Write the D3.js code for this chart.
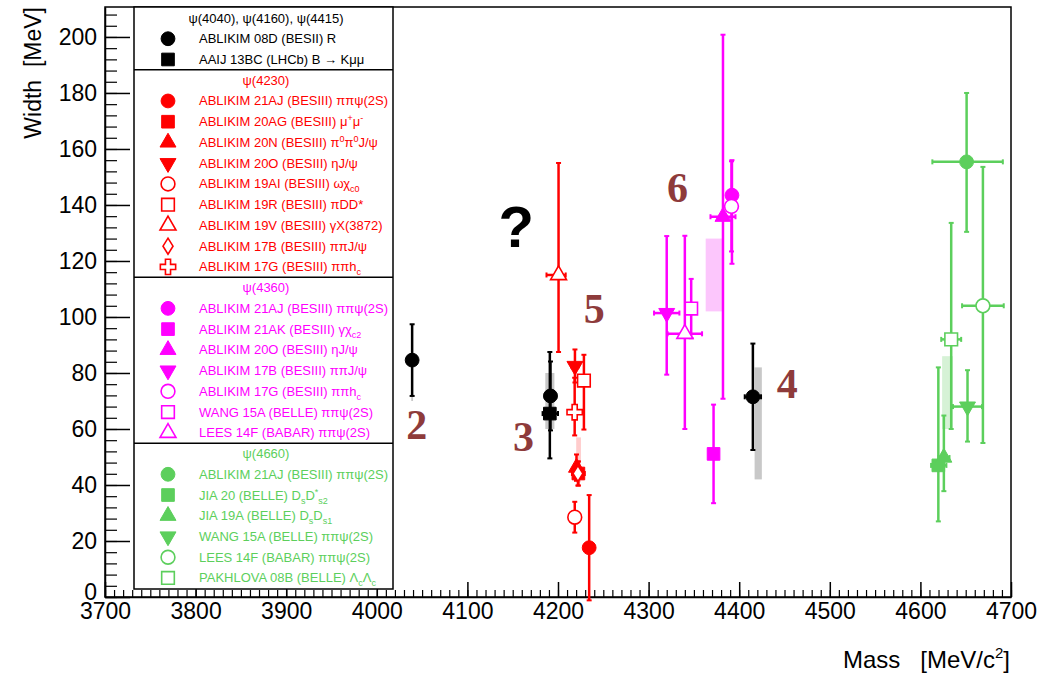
<!DOCTYPE html>
<html>
<head>
<meta charset="utf-8">
<script src="https://cdn.jsdelivr.net/npm/d3@7"></script>
<style>
body { margin: 0; background: #fff; }
svg { display: block; font-family: "Liberation Sans", Arial, Helvetica, sans-serif; }
</style>
</head>
<body>
<svg id="chart" width="1039" height="677"></svg>
<script>
// ---- data ----
var massTicks = d3.range(3700, 4701, 100);
var widthTicks = d3.range(0, 201, 20);

var states = ["ψ(4040), ψ(4160), ψ(4415)", "ψ(4230)", "ψ(4360)", "ψ(4660)"];

// legend entries per state (sym = marker shape, open = hollow marker)
var entries4040 = [
	{label: "ABLIKIM 08D (BESII) R", sym: "circle"},
	{label: "AAIJ 13BC (LHCb) B → Kμμ", sym: "square"}
];
var entries4230 = [
	{label: "ABLIKIM 21AJ (BESIII) ππψ(2S)", sym: "circle"},
	{label: "ABLIKIM 20AG (BESIII) μ^{+}μ^{-}", sym: "square"},
	{label: "ABLIKIM 20N (BESIII) π^{0}π^{0}J/ψ", sym: "triangle"},
	{label: "ABLIKIM 20O (BESIII) ηJ/ψ", sym: "triangleDown"},
	{label: "ABLIKIM 19AI (BESIII) ωχ_{c0}", sym: "circle", open: true},
	{label: "ABLIKIM 19R (BESIII) πDD*", sym: "square", open: true},
	{label: "ABLIKIM 19V (BESIII) γX(3872)", sym: "triangle", open: true},
	{label: "ABLIKIM 17B (BESIII) ππJ/ψ", sym: "diamond", open: true},
	{label: "ABLIKIM 17G (BESIII) ππh_{c}", sym: "cross", open: true}
];
var entries4360 = [
	{label: "ABLIKIM 21AJ (BESIII) ππψ(2S)", sym: "circle"},
	{label: "ABLIKIM 21AK (BESIII) γχ_{c2}", sym: "square"},
	{label: "ABLIKIM 20O (BESIII) ηJ/ψ", sym: "triangle"},
	{label: "ABLIKIM 17B (BESIII) ππJ/ψ", sym: "triangleDown"},
	{label: "ABLIKIM 17G (BESIII) ππh_{c}", sym: "circle", open: true},
	{label: "WANG 15A (BELLE) ππψ(2S)", sym: "square", open: true},
	{label: "LEES 14F (BABAR) ππψ(2S)", sym: "triangle", open: true}
];
var entries4660 = [
	{label: "ABLIKIM 21AJ (BESIII) ππψ(2S)", sym: "circle"},
	{label: "JIA 20 (BELLE) D_{s}D^{*}_{s2}", sym: "square"},
	{label: "JIA 19A (BELLE) D_{s}D_{s1}", sym: "triangle"},
	{label: "WANG 15A (BELLE) ππψ(2S)", sym: "triangleDown"},
	{label: "LEES 14F (BABAR) ππψ(2S)", sym: "circle", open: true},
	{label: "PAKHLOVA 08B (BELLE) Λ_{c}Λ_{c}", sym: "square", open: true}
];

// measurements: e = legend entry index, m = mass, dm = [-,+], w = width, dw = [-,+]
var pts4040 = [
	{e: 0, m: 4039,   dm: [0, 0],   w: 84.6, dw: [12.8, 12.8]},
	{e: 0, m: 4191.7, dm: [6.5, 6.5], w: 71.8, dw: [12.3, 12.3]},
	{e: 1, m: 4191,   dm: [8, 9],   w: 65.5, dw: [16, 22]},
	{e: 0, m: 4415.1, dm: [9, 9],   w: 71.5, dw: [19, 19]}
];
var pts4230 = [
	{e: 0, m: 4234.4, dm: [3.2, 3.2], w: 17.6, dw: [18.8, 18.8]},
	{e: 1, m: 4222.5, dm: [7.1, 7.1], w: 44.1, dw: [4.3, 4.3]},
	{e: 2, m: 4220.4, dm: [2.4, 2.4], w: 46.2, dw: [4.7, 4.7]},
	{e: 3, m: 4218.7, dm: [4.0, 4.0], w: 82.5, dw: [5.9, 5.9]},
	{e: 4, m: 4218.5, dm: [1.6, 1.6], w: 28.5, dw: [5.5, 5.5]},
	{e: 5, m: 4228.6, dm: [4.1, 4.1], w: 77.3, dw: [17.5, 9.2]},
	{e: 6, m: 4200.6, dm: [13.3, 7.9], w: 115, dw: [27.5, 40]},
	{e: 7, m: 4222.0, dm: [3.1, 3.1], w: 44.1, dw: [4.3, 4.3]},
	{e: 8, m: 4218.4, dm: [4.5, 5.5], w: 66.0, dw: [8.3, 12.3]}
];
var pts4360 = [
	{e: 2, m: 4382.1, dm: [13.8, 13.8], w: 135.8, dw: [65, 65]},
	{e: 0, m: 4392,   dm: [4, 4],     w: 143.5, dw: [24.5, 12.5]},
	{e: 1, m: 4371.7, dm: [2, 2],     w: 51.1, dw: [17.6, 17.6]},
	{e: 3, m: 4320.0, dm: [14, 14],   w: 101.4, dw: [22, 27.5]},
	{e: 4, m: 4391.5, dm: [6.3, 6.3], w: 139.5, dw: [16.1, 16.1]},
	{e: 5, m: 4347,   dm: [6, 6],     w: 103, dw: [10.6, 10.6]},
	{e: 6, m: 4340,   dm: [19, 19],   w: 94, dw: [34, 35]}
];
var pts4660 = [
	{e: 0, m: 4651.0, dm: [37.8, 40], w: 155.4, dw: [25, 24.6]},
	{e: 1, m: 4619.8, dm: [8.0, 8.9], w: 47.0, dw: [20, 35]},
	{e: 2, m: 4625.9, dm: [6.0, 6.2], w: 49.8, dw: [12, 15]},
	{e: 3, m: 4652,   dm: [16, 16],   w: 68, dw: [12.5, 13]},
	{e: 4, m: 4669,   dm: [23, 23],   w: 104, dw: [49, 49.6]},
	{e: 5, m: 4634,   dm: [11, 11],   w: 92, dw: [32, 41.6]}
];

// PDG averages drawn as shaded boxes: [state index, mass, dm, width, dw-, dw+]
var pdgBoxes = [
	[0, 4039, 1, 80, 10, 10],
	[0, 4191, 5, 70, 10, 10],
	[0, 4421, 4, 62, 20, 20],
	[1, 4222.7, 2.6, 49, 8, 8],
	[2, 4372, 9, 115, 13, 13],
	[3, 4630, 6, 72, 12, 14]
];

// labels written on the plot: [text, mass, width]
var notes = [["2", 4044, 56.5], ["3", 4162, 52], ["4", 4453, 71], ["5", 4240, 98], ["6", 4332, 141]];

// ---- setup ----
var colors = ["#000000", "#ff0000", "#ff00ff", "#5ccf5c"];
var boxColors = ["#c8c8c8", "#ffcccc", "#fcc6fc", "#d6f2d6"];

var svg = d3.select("#chart");
var x = d3.scaleLinear().domain([3700, 4700]).range([105, 1011]);
var y = d3.scaleLinear().domain([0, 210.7]).range([597, 7]);

// frame
svg.append("rect").attr("x", 105).attr("y", 7).attr("width", 906).attr("height", 590)
	.attr("fill", "none").attr("stroke", "#000").attr("stroke-width", 1.5);

// minor ticks
svg.append("g").attr("transform", "translate(0,597)")
	.call(d3.axisBottom(x).tickValues(d3.range(3700, 4701, 10)).tickSize(-7).tickSizeOuter(0).tickFormat(""))
	.call(function(g){ g.select(".domain").remove(); g.selectAll("line").attr("stroke-width", 1.2); });
svg.append("g").attr("transform", "translate(105,0)")
	.call(d3.axisLeft(y).tickValues(d3.range(0, 210, 4)).tickSize(-12).tickSizeOuter(0).tickFormat(""))
	.call(function(g){ g.select(".domain").remove(); g.selectAll("line").attr("stroke-width", 1.2); });

// major ticks + labels
svg.append("g").attr("transform", "translate(0,597)")
	.call(d3.axisBottom(x).tickValues(massTicks).tickSize(-15).tickSizeOuter(0).tickPadding(6).tickFormat(d3.format("d")))
	.call(function(g){
		g.select(".domain").attr("stroke-width", 1.5);
		g.selectAll("line").attr("stroke-width", 1.5);
		g.selectAll("text").attr("font-size", 23).attr("font-family", "Liberation Sans, Arial, sans-serif").attr("fill", "#000");
	});
svg.append("g").attr("transform", "translate(105,0)")
	.call(d3.axisLeft(y).tickValues(widthTicks).tickSize(-25).tickSizeOuter(0).tickPadding(8).tickFormat(d3.format("d")))
	.call(function(g){
		g.select(".domain").attr("stroke-width", 1.5);
		g.selectAll("line").attr("stroke-width", 1.5);
		g.selectAll("text").attr("font-size", 23).attr("font-family", "Liberation Sans, Arial, sans-serif").attr("fill", "#000");
		g.selectAll(".tick").filter(function(d){ return d == 0; }).select("text").attr("dy", "0.1em");
	});

// axis titles
svg.append("text").attr("transform", "translate(41,7) rotate(-90)").attr("text-anchor", "end")
	.attr("font-size", 23).attr("xml:space", "preserve").text("Width  [MeV]");
var mt = svg.append("text").attr("x", 1010).attr("y", 668).attr("text-anchor", "end").attr("font-size", 24)
	.attr("xml:space", "preserve");
mt.append("tspan").text("Mass   [MeV/c");
mt.append("tspan").attr("font-size", 15).attr("dy", -10).text("2");
mt.append("tspan").attr("dy", 10).text("]");

// marker paths
function markerPath(sym){
	if (sym == "circle") return d3.symbol(d3.symbolCircle, 150)();
	if (sym == "square") return d3.symbol(d3.symbolSquare, 160)();
	if (sym == "triangle" || sym == "triangleDown") return d3.symbol(d3.symbolTriangle, 110)();
	if (sym == "cross") return d3.symbol(d3.symbolCross, 130)();
	if (sym == "diamond") return "M0,-8L5,0L0,8L-5,0Z";
}
function drawMarker(g, sym, open, color, cx, cy){
	g.append("path").attr("d", markerPath(sym))
		.attr("transform", "translate(" + cx + "," + cy + ")" + (sym == "triangleDown" ? " rotate(180)" : ""))
		.attr("fill", open ? "#fff" : color)
		.attr("stroke", color).attr("stroke-width", open ? 1.6 : 1);
}

// PDG boxes
svg.append("g").selectAll("rect").data(pdgBoxes).enter().append("rect")
	.attr("x", function(d){ return x(d[1] - d[2]); })
	.attr("width", function(d){ return x(d[1] + d[2]) - x(d[1] - d[2]); })
	.attr("y", function(d){ return y(d[3] + d[5]); })
	.attr("height", function(d){ return y(d[3] - d[4]) - y(d[3] + d[5]); })
	.attr("fill", function(d){ return boxColors[d[0]]; });

// measurements
var allPts = [pts4040, pts4230, pts4360, pts4660];
var allEntries = [entries4040, entries4230, entries4360, entries4660];
var cap = 2.5;
allPts.forEach(function(pts, gi){
	var col = colors[gi];
	var g = svg.append("g").attr("stroke", col);
	pts.forEach(function(p){
		var ent = allEntries[gi][p.e];
		var cx = x(p.m), cy = y(p.w);
		var y0 = y(p.w - p.dw[0]), y1 = y(p.w + p.dw[1]);
		g.append("line").attr("x1", cx).attr("x2", cx).attr("y1", y0).attr("y2", y1).attr("stroke-width", 2.5);
		g.append("line").attr("x1", cx - cap).attr("x2", cx + cap).attr("y1", y0).attr("y2", y0).attr("stroke-width", 2);
		g.append("line").attr("x1", cx - cap).attr("x2", cx + cap).attr("y1", y1).attr("y2", y1).attr("stroke-width", 2);
		var x0 = x(p.m - p.dm[0]), x1 = x(p.m + p.dm[1]);
		if (x1 - x0 > 1) {
			g.append("line").attr("x1", x0).attr("x2", x1).attr("y1", cy).attr("y2", cy).attr("stroke-width", 2.5);
			g.append("line").attr("x1", x0).attr("x2", x0).attr("y1", cy - cap).attr("y2", cy + cap).attr("stroke-width", 2);
			g.append("line").attr("x1", x1).attr("x2", x1).attr("y1", cy - cap).attr("y2", cy + cap).attr("stroke-width", 2);
		}
		drawMarker(g, ent.sym, ent.open, col, cx, cy);
	});
});

// annotations
svg.append("g").selectAll("text").data(notes).enter().append("text")
	.attr("x", function(d){ return x(d[1]); }).attr("y", function(d){ return y(d[2]); })
	.attr("text-anchor", "middle").attr("font-family", "Liberation Serif, Times New Roman, serif")
	.attr("font-weight", "bold").attr("font-size", 42).attr("fill", "#8e3b3b")
	.text(function(d){ return d[0]; });
svg.append("text").attr("x", x(4154)).attr("y", y(125)).attr("text-anchor", "middle")
	.attr("font-weight", "bold").attr("font-size", 58).attr("fill", "#000").text("?");

// ---- legend ----
function richText(t, str){
	var re = /([\^_])\{([^}]*)\}|([^\^_]+)/g, m, shift = 0;
	while ((m = re.exec(str))) {
		if (m[3]) {
			t.append("tspan").attr("dy", -shift).text(m[3]);
			shift = 0;
		} else {
			var s = m[1] == "^" ? -5 : 4;
			t.append("tspan").attr("dy", s - shift).attr("font-size", 9).text(m[2]);
			shift = s;
		}
	}
}

var lg = svg.append("g");
var lx = 134, lw = 259, rowH = 20.74, row0 = 18;
lg.append("rect").attr("x", lx).attr("y", 7).attr("width", lw).attr("height", 582)
	.attr("fill", "#fff").attr("stroke", "#000").attr("stroke-width", 1.5);
var line = 0;
allEntries.forEach(function(ents, gi){
	if (gi > 0) {
		var yy = row0 + (line - 0.5) * rowH;
		lg.append("line").attr("x1", lx).attr("x2", lx + lw).attr("y1", yy).attr("y2", yy)
			.attr("stroke", "#000").attr("stroke-width", 1.5);
	}
	lg.append("text").attr("x", 266).attr("y", row0 + line * rowH + 4.5).attr("text-anchor", "middle")
		.attr("font-size", 13).attr("fill", colors[gi]).text(states[gi]);
	line++;
	ents.forEach(function(ent){
		var yy = row0 + line * rowH;
		drawMarker(lg, ent.sym, ent.open, colors[gi], 168, yy);
		var t = lg.append("text").attr("x", 199).attr("y", yy + 4.5).attr("font-size", 13).attr("fill", colors[gi]);
		richText(t, ent.label);
		line++;
	});
});
</script>
</body>
</html>
